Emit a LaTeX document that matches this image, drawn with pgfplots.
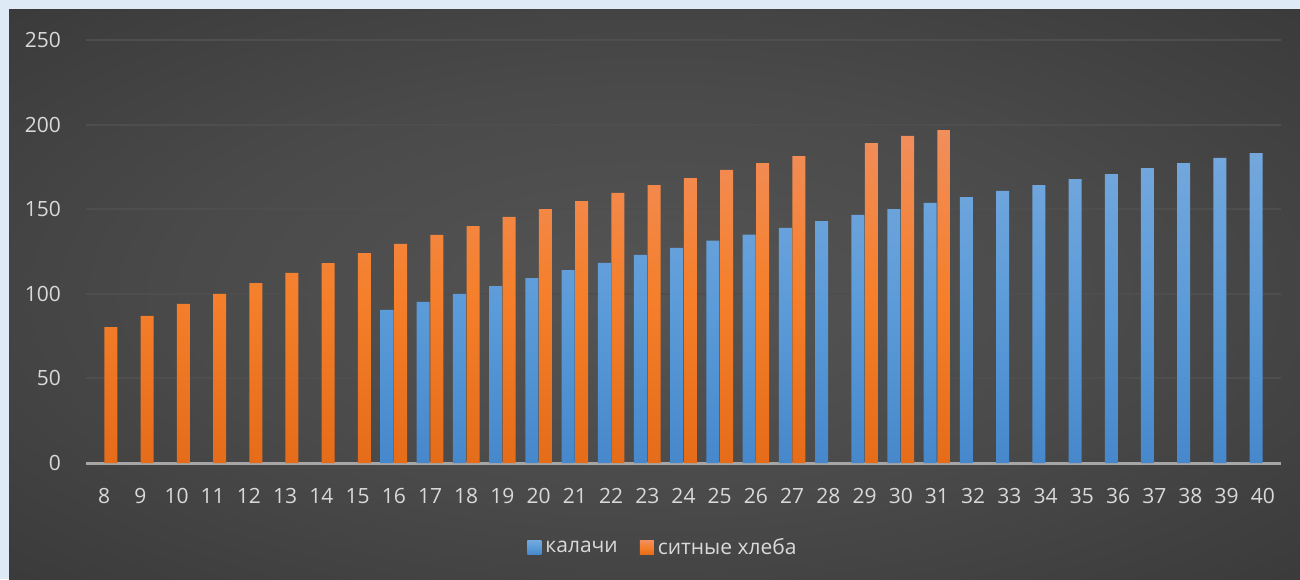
\documentclass[border=0pt]{standalone}
\usepackage{fontspec}
\setmainfont{Open Sans}
\usepackage{pgfplots}
\usepackage{pgfplotstable}
\pgfplotsset{compat=1.18}
\definecolor{bgframe}{HTML}{DEEAF6}
\definecolor{bluetop}{HTML}{74A8DD}
\definecolor{bluemid}{HTML}{5B9BD9}
\definecolor{bluebot}{HTML}{4688CB}
\definecolor{orgtop}{HTML}{F18E5C}
\definecolor{orgmid}{HTML}{F57F2A}
\definecolor{orgbot}{HTML}{E56C19}
\definecolor{tickc}{HTML}{D9D9D9}
\definecolor{gridc}{HTML}{4E4E4E}
\definecolor{axisc}{HTML}{A6A6A6}
\pgfdeclareradialshading{chartbg}{\pgfpoint{0bp}{0bp}}{%
  color(0bp)=(black!67!white);
  color(18bp)=(black!71!white);
  color(50bp)=(black!82!white);
  color(72bp)=(black!86!white)}

\pgfplotstableread{
x y
16 90.5
17 95.2
18 100
19 104.6
20 109.3
21 114
22 118.3
23 123
24 127.2
25 131.5
26 135
27 139
28 143
29 146.6
30 150.1
31 153.7
32 157.2
33 160.8
34 164.3
35 167.8
36 170.8
37 174.3
38 177.3
39 180.3
40 183.2
}\kalachi
\pgfplotstableread{
x y
8 80.3
9 86.9
10 94
11 100
12 106.3
13 112.3
14 118.2
15 124.1
16 129.5
17 134.8
18 140
19 145.4
20 150
21 154.8
22 159.6
23 164.3
24 168.4
25 173.2
26 177.3
27 181.4
29 189.1
30 193.3
31 196.8
}\sitnye

\begin{document}
\begin{tikzpicture}
\fill[bgframe] (0,0) rectangle (650pt,289.5pt);
\shade[shading=chartbg] (4.5pt,0) rectangle (650pt,284.5pt);
\begin{axis}[
  at={(43pt,58pt)}, anchor=south west,
  scale only axis, width=597.5pt, height=211.5pt,
  xmin=7.5, xmax=40.5, ymin=0, ymax=250,
  xtick={8,...,40}, ytick={0,50,...,250},
  separate axis lines,
  axis x line*=bottom, axis y line*=left,
  x axis line style={axisc, line width=1.5pt, -},
  y axis line style={draw=none},
  major tick length=0pt,
  ymajorgrids, grid style={gridc, line width=1pt},
  ticklabel style={font=\fontsize{10.5}{12}\selectfont, text=tickc},
  /pgf/number format/assume math mode=true,
  /pgf/number format/1000 sep={},
  xticklabel style={yshift=-9pt},
  yticklabel style={xshift=-9pt},
  legend style={at={(0.4837,-0.201)}, anchor=center, draw=none, fill=none,
    legend columns=-1, text=tickc, font=\fontsize{10.5}{12}\selectfont,
    /tikz/every even column/.append style={column sep=9pt}},
  legend image code/.code={\path[#1, draw=none] (0pt,-3.2pt) rectangle (7pt,3.8pt);},
]
\addplot[ybar, bar width=6.5pt, bar shift=-3.4pt, draw=none,
  top color=bluetop, bottom color=bluebot, middle color=bluemid]
  table[x=x, y=y] {\kalachi};
\addlegendentry{калачи}
\addplot[ybar, bar width=6.5pt, bar shift=3.4pt, draw=none,
  top color=orgtop, bottom color=orgbot, middle color=orgmid]
  table[x=x, y=y] {\sitnye};
\addlegendentry{ситные хлеба}
\end{axis}
\pgfresetboundingbox
\path (0,0) rectangle (650pt,289.5pt);
\end{tikzpicture}
\end{document}
